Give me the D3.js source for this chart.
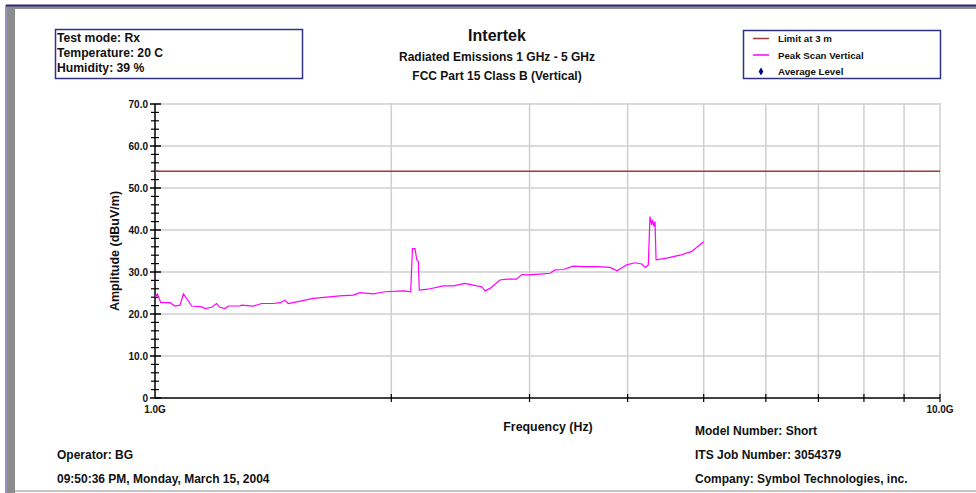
<!DOCTYPE html>
<html>
<head>
<meta charset="utf-8">
<script src="https://cdn.jsdelivr.net/npm/d3@7"></script>
<style>
  html, body { margin: 0; padding: 0; background: #fff; }
  svg text { font-family: "Liberation Sans", Arial, sans-serif; font-weight: bold; fill: #111; }
</style>
</head>
<body>
<div id="chart"></div>
<script>
// Peak scan, vertical polarisation (frequency in GHz, level in dBuV/m)
const peakFreq = [1.000, 1.007, 1.017, 1.045, 1.060, 1.076, 1.087, 1.114, 1.147, 1.158,
  1.181, 1.198, 1.210, 1.228, 1.240, 1.283, 1.289, 1.334, 1.367, 1.415,
  1.443, 1.464, 1.478, 1.515, 1.591, 1.654, 1.720, 1.789, 1.824, 1.897,
  1.963, 2.072, 2.117, 2.128, 2.144, 2.155, 2.165, 2.171, 2.227, 2.329,
  2.399, 2.483, 2.570, 2.608, 2.633, 2.672, 2.751, 2.806, 2.888, 2.932,
  2.989, 3.094, 3.186, 3.233, 3.313, 3.410, 3.511, 3.653, 3.798, 3.880,
  3.989, 4.087, 4.169, 4.209, 4.250, 4.271, 4.292, 4.305, 4.322, 4.335,
  4.348, 4.486, 4.665, 4.828, 4.922, 5.000];
const peakLevel = [24.1, 24.8, 22.7, 22.7, 21.9, 22.1, 24.8, 21.9, 21.7, 21.3,
  21.6, 22.5, 21.6, 21.3, 21.9, 21.9, 22.1, 21.9, 22.5, 22.5,
  22.7, 23.3, 22.5, 22.9, 23.7, 24.0, 24.3, 24.5, 25.1, 24.8,
  25.3, 25.5, 25.3, 35.6, 35.6, 32.9, 32.5, 25.7, 25.9, 26.7,
  26.7, 27.3, 26.7, 26.5, 25.5, 26.1, 28.1, 28.3, 28.3, 29.4,
  29.3, 29.5, 29.7, 30.5, 30.6, 31.4, 31.3, 31.3, 31.1, 30.3,
  31.7, 32.2, 31.9, 31.1, 31.7, 43.2, 41.2, 42.4, 40.8, 42.0,
  32.9, 33.3, 34.0, 34.9, 36.2, 37.2];

// Class B limit at 3 m
const limitFreq = [1, 10];
const limitLevel = [54, 54];

const yTicks = [0, 10, 20, 30, 40, 50, 60, 70];
const xGrid = [2, 3, 4, 5, 6, 7, 8, 9, 10];
const xLabels = [[1, "1.0G"], [10, "10.0G"]];

const infoLines = ["Test mode: Rx", "Temperature: 20 C", "Humidity: 39 %"];
const titleLines = ["Intertek", "Radiated Emissions 1 GHz - 5 GHz", "FCC Part 15 Class B (Vertical)"];
const legendItems = [
  { name: "Limit at 3 m", color: "#a33a3a", type: "line" },
  { name: "Peak Scan Vertical", color: "#ff00ff", type: "line" },
  { name: "Average Level", color: "#000080", type: "dot" }
];
const footLeft = ["Operator: BG", "09:50:36 PM, Monday, March 15, 2004"];
const footRight = ["Model Number: Short", "ITS Job Number: 3054379", "Company: Symbol Technologies, inc."];

const W = 976, H = 493;
const pLeft = 155, pRight = 940, pTop = 104, pBottom = 398;

const svg = d3.select("#chart").append("svg")
  .attr("width", W).attr("height", H);

// page frame
svg.append("rect").attr("x", 7).attr("y", 7).attr("width", 8).attr("height", H - 7).attr("fill", "#8c8c8c");
svg.append("rect").attr("x", 7).attr("y", 6).attr("width", W - 7).attr("height", 3).attr("fill", "#8c8c8c");
svg.append("line").attr("x1", 6).attr("x2", W).attr("y1", 5.5).attr("y2", 5.5)
  .attr("stroke", "#2b2b7a").attr("stroke-width", 2);
svg.append("line").attr("x1", 6).attr("x2", 6).attr("y1", 5).attr("y2", H)
  .attr("stroke", "#2b2b7a").attr("stroke-width", 1);
svg.append("line").attr("x1", 15).attr("x2", W).attr("y1", 491).attr("y2", 491)
  .attr("stroke", "#c4c4c4").attr("stroke-width", 2);

const x = d3.scaleLog().domain([1, 10]).range([pLeft, pRight]);
const y = d3.scaleLinear().domain([0, 70]).range([pBottom, pTop]);

// gridlines
svg.append("g").selectAll("line").data(yTicks.filter(d => d > 0)).join("line")
  .attr("x1", pLeft).attr("x2", pRight)
  .attr("y1", d => y(d)).attr("y2", d => y(d))
  .attr("stroke", "#cfcfcf").attr("stroke-width", 1.5);
svg.append("g").selectAll("line").data(xGrid).join("line")
  .attr("x1", d => x(d)).attr("x2", d => x(d))
  .attr("y1", pTop - 1).attr("y2", pBottom)
  .attr("stroke", "#cfcfcf").attr("stroke-width", 1.5);

// y axis
const yAxis = svg.append("g");
yAxis.append("line").attr("x1", pLeft).attr("x2", pLeft).attr("y1", pTop).attr("y2", pBottom)
  .attr("stroke", "#000").attr("stroke-width", 1.5);
yAxis.selectAll(".minor").data(d3.range(0, 71, 2).filter(d => d % 10 != 0)).join("line")
  .attr("x1", pLeft - 4).attr("x2", pLeft + 4)
  .attr("y1", d => y(d)).attr("y2", d => y(d))
  .attr("stroke", "#000").attr("stroke-width", 1.2);
yAxis.selectAll(".major").data(yTicks).join("line")
  .attr("x1", pLeft - 5).attr("x2", pLeft + 6)
  .attr("y1", d => y(d)).attr("y2", d => y(d))
  .attr("stroke", "#000").attr("stroke-width", 1.5);
yAxis.selectAll("text").data(yTicks).join("text")
  .attr("x", pLeft - 7).attr("y", d => y(d) + 3.5)
  .attr("text-anchor", "end").attr("font-size", "10px")
  .text(d => d == 0 ? "0" : d.toFixed(1));

// x axis
const xAxis = svg.append("g");
xAxis.append("line").attr("x1", pLeft).attr("x2", pRight).attr("y1", pBottom).attr("y2", pBottom)
  .attr("stroke", "#000").attr("stroke-width", 1.5);
xAxis.selectAll(".tick").data(xGrid).join("line")
  .attr("x1", d => x(d)).attr("x2", d => x(d))
  .attr("y1", pBottom - 4).attr("y2", pBottom + 4)
  .attr("stroke", "#000").attr("stroke-width", 1.2);
xAxis.selectAll("text").data(xLabels).join("text")
  .attr("x", d => x(d[0])).attr("y", pBottom + 15)
  .attr("text-anchor", "middle").attr("font-size", "10px")
  .text(d => d[1]);

svg.append("text").attr("x", 548).attr("y", 431)
  .attr("text-anchor", "middle").attr("font-size", "12.4px").text("Frequency (Hz)");
svg.append("text").attr("transform", `translate(119, ${(pTop + pBottom) / 2}) rotate(-90)`)
  .attr("text-anchor", "middle").attr("font-size", "12.5px").text("Amplitude (dBuV/m)");

// traces
const line = d3.line().x(d => x(d[0])).y(d => y(d[1]));
svg.append("path")
  .datum(limitFreq.map((f, i) => [f, limitLevel[i]]))
  .attr("d", line).attr("fill", "none")
  .attr("stroke", legendItems[0].color).attr("stroke-width", 1.5);
svg.append("path")
  .datum(peakFreq.map((f, i) => [f, peakLevel[i]]))
  .attr("d", line).attr("fill", "none")
  .attr("stroke", legendItems[1].color).attr("stroke-width", 1.2);

// info box
svg.append("rect").attr("x", 55.5).attr("y", 29.5).attr("width", 247).attr("height", 49)
  .attr("fill", "none").attr("stroke", "#30308a").attr("stroke-width", 1.5);
svg.append("g").selectAll("text").data(infoLines).join("text")
  .attr("x", 57).attr("y", (d, i) => 42 + i * 15)
  .attr("font-size", "12.2px").text(d => d);

// titles
svg.append("g").selectAll("text").data(titleLines).join("text")
  .attr("x", 497).attr("y", (d, i) => [41, 61, 80][i])
  .attr("text-anchor", "middle")
  .attr("font-size", (d, i) => i == 0 ? "16px" : "12px")
  .text(d => d);

// legend
svg.append("rect").attr("x", 743.5).attr("y", 30.5).attr("width", 197).attr("height", 48)
  .attr("fill", "none").attr("stroke", "#30308a").attr("stroke-width", 1.5);
const leg = svg.append("g").selectAll("g").data(legendItems).join("g")
  .attr("transform", (d, i) => `translate(753, ${38.5 + i * 16.5})`);
leg.filter(d => d.type == "line").append("line")
  .attr("x1", 0).attr("x2", 16).attr("y1", 0).attr("y2", 0)
  .attr("stroke", d => d.color).attr("stroke-width", 1.5);
leg.filter(d => d.type == "dot").append("path")
  .attr("d", d3.symbol(d3.symbolDiamond, 18)())
  .attr("transform", "translate(8,0)")
  .attr("fill", d => d.color);
leg.append("text").attr("x", 25).attr("y", 3.5)
  .attr("font-size", "9.7px").text(d => d.name);

// footer
svg.append("g").selectAll("text").data(footLeft).join("text")
  .attr("x", 57).attr("y", (d, i) => 459 + i * 24)
  .attr("font-size", "12px").text(d => d);
svg.append("g").selectAll("text").data(footRight).join("text")
  .attr("x", 695).attr("y", (d, i) => 435 + i * 24)
  .attr("font-size", "12px").text(d => d);
</script>
</body>
</html>
